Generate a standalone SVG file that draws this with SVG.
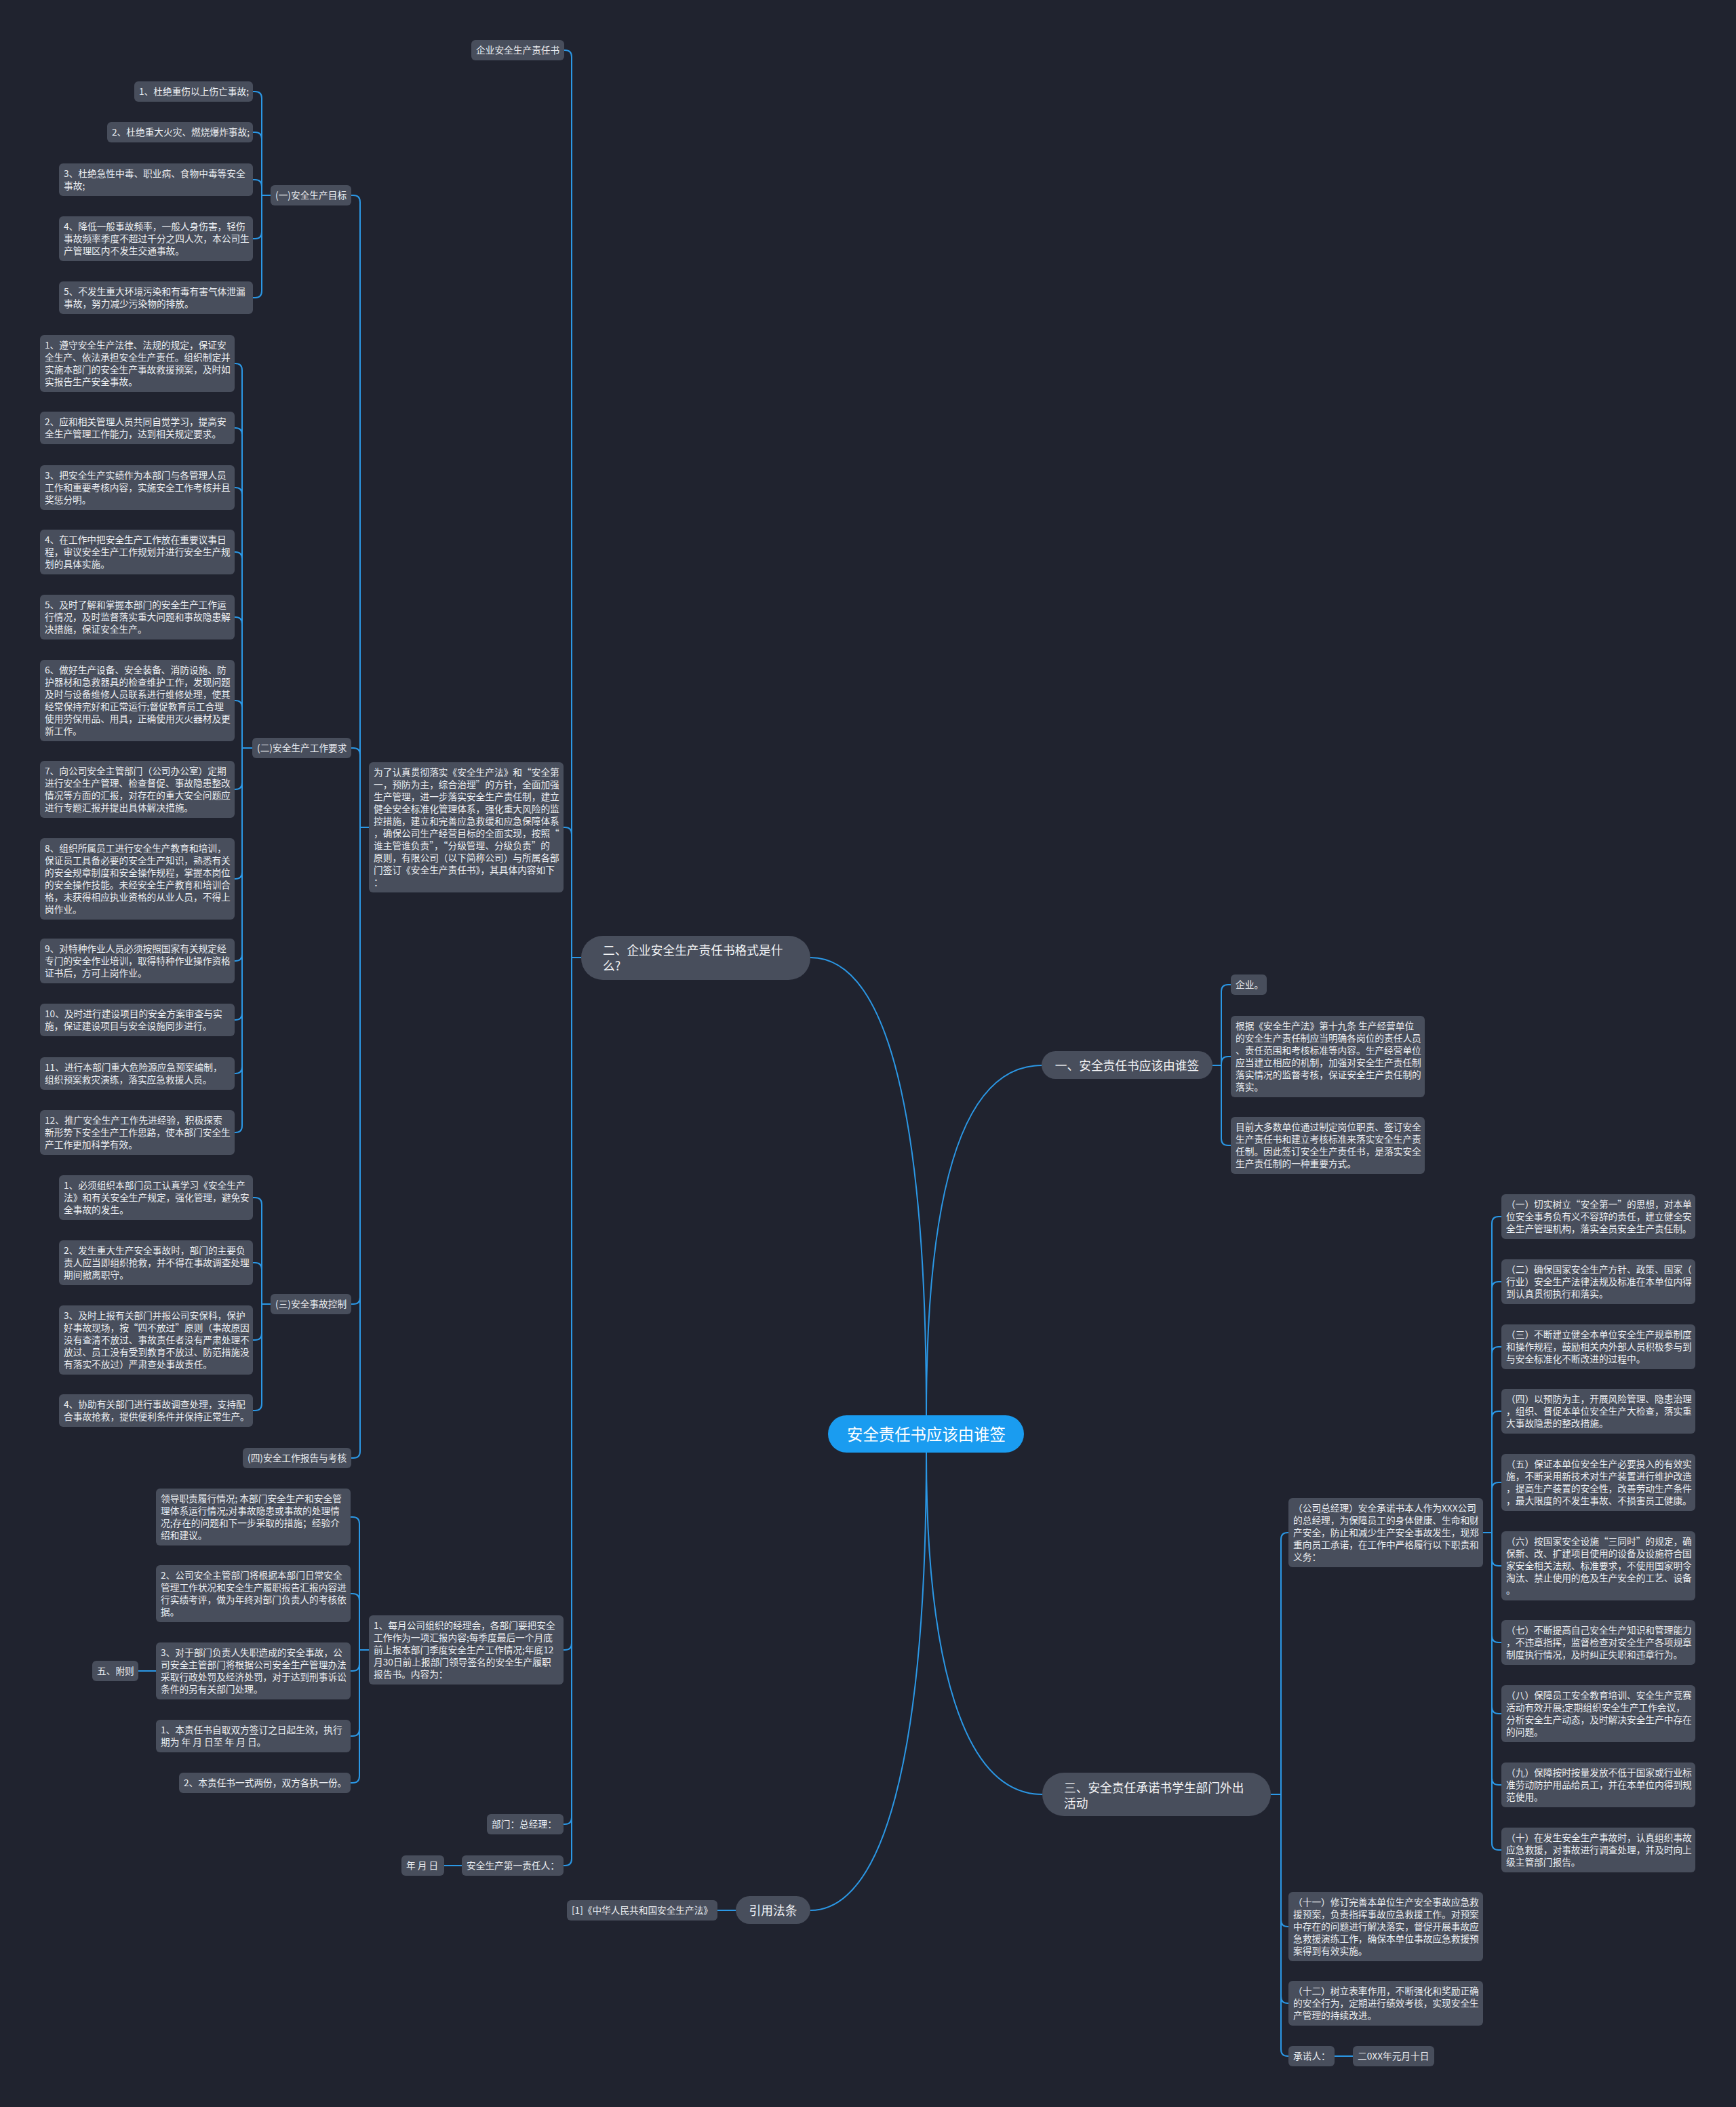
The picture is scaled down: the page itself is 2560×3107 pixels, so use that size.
<svg xmlns="http://www.w3.org/2000/svg" width="2560" height="3107" viewBox="0 0 2560 3107">
<style>
.nd{fill:#484e5c}
.tx{font-family:'Noto Sans CJK SC','Noto Sans',sans-serif;font-size:13.7px;fill:#eceef2}
.t1{font-family:'Noto Sans CJK SC','Noto Sans',sans-serif;font-size:17.7px;fill:#f4f5f7}
.lk{fill:none;stroke:#2b98e6;stroke-width:2}
</style>
<rect width="2560" height="3107" fill="#20232f"/>
<g id="connectors" class="lk">
<path d="M1195,1412C1310,1412 1366,1650 1366,2087"/>
<path d="M1536,1571C1420,1571 1366,1750 1366,2087"/>
<path d="M1366,2142C1366,2450 1420,2646 1537,2646"/>
<path d="M1366,2142C1366,2600 1300,2817 1195,2817"/>
<path d="M857,1412H843V84Q843,74 833,74H832"/>
<path d="M857,1412H843V1230Q843,1220 833,1220H831"/>
<path d="M857,1412H843V2423Q843,2433 833,2433H831"/>
<path d="M857,1412H843V2680Q843,2690 833,2690H831"/>
<path d="M857,1412H843V2741Q843,2751 833,2751H831"/>
<path d="M544,1220H531V298Q531,288 521,288H518"/>
<path d="M544,1220H531V1113Q531,1103 521,1103H518"/>
<path d="M544,1220H531V1913Q531,1923 521,1923H518"/>
<path d="M544,1220H531V2140Q531,2150 521,2150H518"/>
<path d="M399,288H386V145Q386,135 376,135H373"/>
<path d="M399,288H386V205Q386,195 376,195H373"/>
<path d="M399,288H386V275Q386,265 376,265H373"/>
<path d="M399,288H386V342Q386,352 376,352H373"/>
<path d="M399,288H386V429Q386,439 376,439H373"/>
<path d="M372,1103H357V546Q357,536 347,536H346"/>
<path d="M372,1103H357V641Q357,631 347,631H346"/>
<path d="M372,1103H357V729Q357,719 347,719H346"/>
<path d="M372,1103H357V824Q357,814 347,814H346"/>
<path d="M372,1103H357V920Q357,910 347,910H346"/>
<path d="M372,1103H357V1043Q357,1033 347,1033H346"/>
<path d="M372,1103H357V1154Q357,1164 347,1164H346"/>
<path d="M372,1103H357V1286Q357,1296 347,1296H346"/>
<path d="M372,1103H357V1407Q357,1417 347,1417H346"/>
<path d="M372,1103H357V1494Q357,1504 347,1504H346"/>
<path d="M372,1103H357V1573Q357,1583 347,1583H346"/>
<path d="M372,1103H357V1660Q357,1670 347,1670H346"/>
<path d="M399,1923H386V1776Q386,1766 376,1766H373"/>
<path d="M399,1923H386V1872Q386,1862 376,1862H373"/>
<path d="M399,1923H386V1966Q386,1976 376,1976H373"/>
<path d="M399,1923H386V2070Q386,2080 376,2080H373"/>
<path d="M544,2433H530V2247Q530,2237 520,2237H517"/>
<path d="M544,2433H530V2360Q530,2350 520,2350H517"/>
<path d="M544,2433H530V2454Q530,2464 520,2464H517"/>
<path d="M544,2433H530V2550Q530,2560 520,2560H517"/>
<path d="M544,2433H530V2619Q530,2629 520,2629H517"/>
<path d="M230,2464H204"/>
<path d="M681,2751H655"/>
<path d="M1085,2817H1058"/>
<path d="M1788,1571H1801V1462Q1801,1452 1811,1452H1815"/>
<path d="M1788,1571H1801V1568Q1801,1558 1811,1558H1815"/>
<path d="M1788,1571H1801V1679Q1801,1689 1811,1689H1815"/>
<path d="M1874,2646H1889V2270Q1889,2260 1899,2260H1900"/>
<path d="M1874,2646H1889V2831Q1889,2841 1899,2841H1900"/>
<path d="M1874,2646H1889V2944Q1889,2954 1899,2954H1900"/>
<path d="M1874,2646H1889V3022Q1889,3032 1899,3032H1900"/>
<path d="M1968,3032H1995"/>
<path d="M2187,2260H2200V1804Q2200,1794 2210,1794H2214"/>
<path d="M2187,2260H2200V1900Q2200,1890 2210,1890H2214"/>
<path d="M2187,2260H2200V1996Q2200,1986 2210,1986H2214"/>
<path d="M2187,2260H2200V2091Q2200,2081 2210,2081H2214"/>
<path d="M2187,2260H2200V2196Q2200,2186 2210,2186H2214"/>
<path d="M2187,2260H2200V2299Q2200,2309 2210,2309H2214"/>
<path d="M2187,2260H2200V2412Q2200,2422 2210,2422H2214"/>
<path d="M2187,2260H2200V2517Q2200,2527 2210,2527H2214"/>
<path d="M2187,2260H2200V2622Q2200,2632 2210,2632H2214"/>
<path d="M2187,2260H2200V2718Q2200,2728 2210,2728H2214"/>
</g>

<g id="center"><rect x="1221" y="2087" width="289" height="55" rx="27.5" fill="#1a9cf0"/><text x="1366" y="2123.5" text-anchor="middle" font-family="'Noto Sans CJK SC',sans-serif" font-size="23.4" fill="#ffffff">安全责任书应该由谁签</text></g>

<g id="n-er"><rect class="nd" x="857" y="1380" width="338" height="65" rx="32"/><text class="t1"><tspan x="889" y="1407.5">二、企业安全生产责任书格式是什</tspan><tspan x="889" y="1430.5">么?</tspan></text></g>
<g id="n-yi"><rect class="nd" x="1536" y="1550" width="252" height="41" rx="20.5"/><text class="t1" x="1662" y="1577.5" text-anchor="middle">一、安全责任书应该由谁签</text></g>
<g id="n-san"><rect class="nd" x="1537" y="2614" width="337" height="64" rx="32"/><text class="t1"><tspan x="1569" y="2642.5">三、安全责任承诺书学生部门外出</tspan><tspan x="1569" y="2665.5">活动</tspan></text></g>
<g id="n-yy"><rect class="nd" x="1085" y="2796" width="110" height="41" rx="20.5"/><text class="t1" x="1140" y="2823.5" text-anchor="middle">引用法条</text></g>

<g id="n-law"><rect class="nd" x="836" y="2802" width="222" height="30" rx="6"/><text class="tx" x="843" y="2822" textLength="208" lengthAdjust="spacingAndGlyphs">[1]《中华人民共和国安全生产法》</text></g>

<g id="n-zrs"><rect class="nd" x="695" y="59" width="137" height="30" rx="6"/><text class="tx" x="702" y="79">企业安全生产责任书</text></g>

<g id="n-par"><rect class="nd" x="544" y="1124" width="287" height="192" rx="6"/><text class="tx"><tspan x="551" y="1144">为了认真贯彻落实《安全生产法》和“安全第</tspan><tspan x="551" y="1162">一，预防为主，综合治理”的方针，全面加强</tspan><tspan x="551" y="1180">生产管理，进一步落实安全生产责任制，建立</tspan><tspan x="551" y="1198">健全安全标准化管理体系，强化重大风险的监</tspan><tspan x="551" y="1216">控措施，建立和完善应急救缓和应急保障体系</tspan><tspan x="551" y="1234">，确保公司生产经营目标的全面实现，按照“</tspan><tspan x="551" y="1252">谁主管谁负责”，“分级管理、分级负责”的</tspan><tspan x="551" y="1270">原则，有限公司（以下简称公司）与所属各部</tspan><tspan x="551" y="1288">门签订《安全生产责任书》，其具体内容如下</tspan><tspan x="551" y="1306">：</tspan></text></g>

<g id="n-g1"><rect class="nd" x="399" y="273" width="119" height="30" rx="6"/><text class="tx" x="406" y="293">(一)安全生产目标</text></g>
<g id="n-g1-1"><rect class="nd" x="198" y="120" width="175" height="30" rx="6"/><text class="tx" x="205" y="140">1、杜绝重伤以上伤亡事故;</text></g>
<g id="n-g1-2"><rect class="nd" x="158" y="180" width="215" height="30" rx="6"/><text class="tx" x="165" y="200">2、杜绝重大火灾、燃烧爆炸事故;</text></g>
<g id="n-g1-3"><rect class="nd" x="87" y="241" width="286" height="48" rx="6"/><text class="tx"><tspan x="94" y="261">3、杜绝急性中毒、职业病、食物中毒等安全</tspan><tspan x="94" y="279">事故;</tspan></text></g>
<g id="n-g1-4"><rect class="nd" x="87" y="319" width="286" height="66" rx="6"/><text class="tx"><tspan x="94" y="339">4、降低一般事故频率，一般人身伤害，轻伤</tspan><tspan x="94" y="357">事故频率季度不超过千分之四人次，本公司生</tspan><tspan x="94" y="375">产管理区内不发生交通事故。</tspan></text></g>
<g id="n-g1-5"><rect class="nd" x="87" y="415" width="286" height="48" rx="6"/><text class="tx"><tspan x="94" y="435">5、不发生重大环境污染和有毒有害气体泄漏</tspan><tspan x="94" y="453">事故，努力减少污染物的排放。</tspan></text></g>

<g id="n-g2"><rect class="nd" x="372" y="1088" width="146" height="30" rx="6"/><text class="tx" x="379" y="1108">(二)安全生产工作要求</text></g>
<g id="n-g2-1"><rect class="nd" x="59" y="494" width="287" height="84" rx="6"/><text class="tx"><tspan x="66" y="514">1、遵守安全生产法律、法规的规定，保证安</tspan><tspan x="66" y="532">全生产、依法承担安全生产责任。组织制定并</tspan><tspan x="66" y="550">实施本部门的安全生产事故救援预案，及时如</tspan><tspan x="66" y="568">实报告生产安全事故。</tspan></text></g>
<g id="n-g2-2"><rect class="nd" x="59" y="607" width="287" height="48" rx="6"/><text class="tx"><tspan x="66" y="627">2、应和相关管理人员共同自觉学习，提高安</tspan><tspan x="66" y="645">全生产管理工作能力，达到相关规定要求。</tspan></text></g>
<g id="n-g2-3"><rect class="nd" x="59" y="686" width="287" height="66" rx="6"/><text class="tx"><tspan x="66" y="706">3、把安全生产实绩作为本部门与各管理人员</tspan><tspan x="66" y="724">工作和重要考核内容，实施安全工作考核并且</tspan><tspan x="66" y="742">奖惩分明。</tspan></text></g>
<g id="n-g2-4"><rect class="nd" x="59" y="781" width="287" height="66" rx="6"/><text class="tx"><tspan x="66" y="801">4、在工作中把安全生产工作放在重要议事日</tspan><tspan x="66" y="819">程，审议安全生产工作规划并进行安全生产规</tspan><tspan x="66" y="837">划的具体实施。</tspan></text></g>
<g id="n-g2-5"><rect class="nd" x="59" y="877" width="287" height="66" rx="6"/><text class="tx"><tspan x="66" y="897">5、及时了解和掌握本部门的安全生产工作运</tspan><tspan x="66" y="915">行情况，及时监督落实重大问题和事故隐患解</tspan><tspan x="66" y="933">决措施，保证安全生产。</tspan></text></g>
<g id="n-g2-6"><rect class="nd" x="59" y="973" width="287" height="120" rx="6"/><text class="tx"><tspan x="66" y="993">6、做好生产设备、安全装备、消防设施、防</tspan><tspan x="66" y="1011">护器材和急救器具的检查维护工作，发现问题</tspan><tspan x="66" y="1029">及时与设备维修人员联系进行维修处理，使其</tspan><tspan x="66" y="1047">经常保持完好和正常运行;督促教育员工合理</tspan><tspan x="66" y="1065">使用劳保用品、用具，正确使用灭火器材及更</tspan><tspan x="66" y="1083">新工作。</tspan></text></g>
<g id="n-g2-7"><rect class="nd" x="59" y="1122" width="287" height="84" rx="6"/><text class="tx"><tspan x="66" y="1142">7、向公司安全主管部门（公司办公室）定期</tspan><tspan x="66" y="1160">进行安全生产管理、检查督促、事故隐患整改</tspan><tspan x="66" y="1178">情况等方面的汇报，对存在的重大安全问题应</tspan><tspan x="66" y="1196">进行专题汇报并提出具体解决措施。</tspan></text></g>
<g id="n-g2-8"><rect class="nd" x="59" y="1236" width="287" height="120" rx="6"/><text class="tx"><tspan x="66" y="1256">8、组织所属员工进行安全生产教育和培训，</tspan><tspan x="66" y="1274">保证员工具备必要的安全生产知识，熟悉有关</tspan><tspan x="66" y="1292">的安全规章制度和安全操作规程，掌握本岗位</tspan><tspan x="66" y="1310">的安全操作技能。未经安全生产教育和培训合</tspan><tspan x="66" y="1328">格，未获得相应执业资格的从业人员，不得上</tspan><tspan x="66" y="1346">岗作业。</tspan></text></g>
<g id="n-g2-9"><rect class="nd" x="59" y="1384" width="287" height="66" rx="6"/><text class="tx"><tspan x="66" y="1404">9、对特种作业人员必须按照国家有关规定经</tspan><tspan x="66" y="1422">专门的安全作业培训，取得特种作业操作资格</tspan><tspan x="66" y="1440">证书后，方可上岗作业。</tspan></text></g>
<g id="n-g2-10"><rect class="nd" x="59" y="1480" width="287" height="48" rx="6"/><text class="tx"><tspan x="66" y="1500">10、及时进行建设项目的安全方案审查与实</tspan><tspan x="66" y="1518">施，保证建设项目与安全设施同步进行。</tspan></text></g>
<g id="n-g2-11"><rect class="nd" x="59" y="1559" width="287" height="48" rx="6"/><text class="tx"><tspan x="66" y="1579">11、进行本部门重大危险源应急预案编制，</tspan><tspan x="66" y="1597">组织预案救灾演练，落实应急救援人员。</tspan></text></g>
<g id="n-g2-12"><rect class="nd" x="59" y="1637" width="287" height="66" rx="6"/><text class="tx"><tspan x="66" y="1657">12、推广安全生产工作先进经验，积极探索</tspan><tspan x="66" y="1675">新形势下安全生产工作思路，使本部门安全生</tspan><tspan x="66" y="1693">产工作更加科学有效。</tspan></text></g>

<g id="n-g3"><rect class="nd" x="399" y="1908" width="119" height="30" rx="6"/><text class="tx" x="406" y="1928">(三)安全事故控制</text></g>
<g id="n-g3-1"><rect class="nd" x="87" y="1733" width="286" height="66" rx="6"/><text class="tx"><tspan x="94" y="1753">1、必须组织本部门员工认真学习《安全生产</tspan><tspan x="94" y="1771">法》和有关安全生产规定，强化管理，避免安</tspan><tspan x="94" y="1789">全事故的发生。</tspan></text></g>
<g id="n-g3-2"><rect class="nd" x="87" y="1829" width="286" height="66" rx="6"/><text class="tx"><tspan x="94" y="1849">2、发生重大生产安全事故时，部门的主要负</tspan><tspan x="94" y="1867">责人应当即组织抢救，并不得在事故调查处理</tspan><tspan x="94" y="1885">期间撤离职守。</tspan></text></g>
<g id="n-g3-3"><rect class="nd" x="87" y="1925" width="286" height="102" rx="6"/><text class="tx"><tspan x="94" y="1945">3、及时上报有关部门并报公司安保科，保护</tspan><tspan x="94" y="1963">好事故现场，按“四不放过”原则（事故原因</tspan><tspan x="94" y="1981">没有查清不放过、事故责任者没有严肃处理不</tspan><tspan x="94" y="1999">放过、员工没有受到教育不放过、防范措施没</tspan><tspan x="94" y="2017">有落实不放过）严肃查处事故责任。</tspan></text></g>
<g id="n-g3-4"><rect class="nd" x="87" y="2056" width="286" height="48" rx="6"/><text class="tx"><tspan x="94" y="2076">4、协助有关部门进行事故调查处理，支持配</tspan><tspan x="94" y="2094">合事故抢救，提供便利条件并保持正常生产。</tspan></text></g>

<g id="n-g4"><rect class="nd" x="358" y="2135" width="160" height="30" rx="6"/><text class="tx" x="365" y="2155">(四)安全工作报告与考核</text></g>

<g id="n-c"><rect class="nd" x="544" y="2382" width="287" height="102" rx="6"/><text class="tx"><tspan x="551" y="2402">1、每月公司组织的经理会，各部门要把安全</tspan><tspan x="551" y="2420">工作作为一项汇报内容;每季度最后一个月底</tspan><tspan x="551" y="2438">前上报本部门季度安全生产工作情况;年底12</tspan><tspan x="551" y="2456">月30日前上报部门领导签名的安全生产履职</tspan><tspan x="551" y="2474">报告书。内容为：</tspan></text></g>
<g id="n-c-1"><rect class="nd" x="230" y="2195" width="287" height="84" rx="6"/><text class="tx"><tspan x="237" y="2215">领导职责履行情况; 本部门安全生产和安全管</tspan><tspan x="237" y="2233">理体系运行情况;对事故隐患或事故的处理情</tspan><tspan x="237" y="2251">况;存在的问题和下一步采取的措施；经验介</tspan><tspan x="237" y="2269">绍和建议。</tspan></text></g>
<g id="n-c-2"><rect class="nd" x="230" y="2308" width="287" height="84" rx="6"/><text class="tx"><tspan x="237" y="2328">2、公司安全主管部门将根据本部门日常安全</tspan><tspan x="237" y="2346">管理工作状况和安全生产履职报告汇报内容进</tspan><tspan x="237" y="2364">行实绩考评，做为年终对部门负责人的考核依</tspan><tspan x="237" y="2382">据。</tspan></text></g>
<g id="n-c-3"><rect class="nd" x="230" y="2422" width="287" height="84" rx="6"/><text class="tx"><tspan x="237" y="2442">3、对于部门负责人失职造成的安全事故，公</tspan><tspan x="237" y="2460">司安全主管部门将根据公司安全生产管理办法</tspan><tspan x="237" y="2478">采取行政处罚及经济处罚，对于达到刑事诉讼</tspan><tspan x="237" y="2496">条件的另有关部门处理。</tspan></text></g>
<g id="n-c-4"><rect class="nd" x="230" y="2536" width="287" height="48" rx="6"/><text class="tx"><tspan x="237" y="2556">1、本责任书自取双方签订之日起生效，执行</tspan><tspan x="237" y="2574">期为 年 月 日至 年 月 日。</tspan></text></g>
<g id="n-c-5"><rect class="nd" x="264" y="2614" width="253" height="30" rx="6"/><text class="tx" x="271" y="2634">2、本责任书一式两份，双方各执一份。</text></g>
<g id="n-fz"><rect class="nd" x="136" y="2449" width="68" height="30" rx="6"/><text class="tx" x="143" y="2469">五、附则</text></g>

<g id="n-d"><rect class="nd" x="718" y="2675" width="113" height="30" rx="6"/><text class="tx" x="725" y="2695">部门：总经理：</text></g>
<g id="n-e"><rect class="nd" x="681" y="2736" width="150" height="30" rx="6"/><text class="tx" x="688" y="2756">安全生产第一责任人：</text></g>
<g id="n-ymd"><rect class="nd" x="592" y="2736" width="63" height="30" rx="6"/><text class="tx" x="599" y="2756">年 月 日</text></g>

<g id="n-r1-1"><rect class="nd" x="1815" y="1437" width="53" height="30" rx="6"/><text class="tx" x="1822" y="1457">企业。</text></g>
<g id="n-r1-2"><rect class="nd" x="1815" y="1498" width="286" height="120" rx="6"/><text class="tx"><tspan x="1822" y="1518">根据《安全生产法》第十九条 生产经营单位</tspan><tspan x="1822" y="1536">的安全生产责任制应当明确各岗位的责任人员</tspan><tspan x="1822" y="1554">、责任范围和考核标准等内容。生产经营单位</tspan><tspan x="1822" y="1572">应当建立相应的机制，加强对安全生产责任制</tspan><tspan x="1822" y="1590">落实情况的监督考核，保证安全生产责任制的</tspan><tspan x="1822" y="1608">落实。</tspan></text></g>
<g id="n-r1-3"><rect class="nd" x="1815" y="1647" width="286" height="84" rx="6"/><text class="tx"><tspan x="1822" y="1667">目前大多数单位通过制定岗位职责、签订安全</tspan><tspan x="1822" y="1685">生产责任书和建立考核标准来落实安全生产责</tspan><tspan x="1822" y="1703">任制。因此签订安全生产责任书，是落实安全</tspan><tspan x="1822" y="1721">生产责任制的一种重要方式。</tspan></text></g>

<g id="n-a"><rect class="nd" x="1900" y="2209" width="287" height="102" rx="6"/><text class="tx"><tspan x="1907" y="2229">（公司总经理）安全承诺书本人作为XXX公司</tspan><tspan x="1907" y="2247">的总经理，为保障员工的身体健康、生命和财</tspan><tspan x="1907" y="2265">产安全，防止和减少生产安全事故发生，现郑</tspan><tspan x="1907" y="2283">重向员工承诺，在工作中严格履行以下职责和</tspan><tspan x="1907" y="2301">义务：</tspan></text></g>
<g id="n-a-1"><rect class="nd" x="2214" y="1761" width="286" height="66" rx="6"/><text class="tx"><tspan x="2221" y="1781">（一）切实树立“安全第一”的思想，对本单</tspan><tspan x="2221" y="1799">位安全事务负有义不容辞的责任，建立健全安</tspan><tspan x="2221" y="1817">全生产管理机构，落实全员安全生产责任制。</tspan></text></g>
<g id="n-a-2"><rect class="nd" x="2214" y="1857" width="286" height="66" rx="6"/><text class="tx"><tspan x="2221" y="1877">（二）确保国家安全生产方针、政策、国家（</tspan><tspan x="2221" y="1895">行业）安全生产法律法规及标准在本单位内得</tspan><tspan x="2221" y="1913">到认真贯彻执行和落实。</tspan></text></g>
<g id="n-a-3"><rect class="nd" x="2214" y="1953" width="286" height="66" rx="6"/><text class="tx"><tspan x="2221" y="1973">（三）不断建立健全本单位安全生产规章制度</tspan><tspan x="2221" y="1991">和操作规程，鼓励相关内外部人员积极参与到</tspan><tspan x="2221" y="2009">与安全标准化不断改进的过程中。</tspan></text></g>
<g id="n-a-4"><rect class="nd" x="2214" y="2048" width="286" height="66" rx="6"/><text class="tx"><tspan x="2221" y="2068">（四）以预防为主，开展风险管理、隐患治理</tspan><tspan x="2221" y="2086">，组织、督促本单位安全生产大检查，落实重</tspan><tspan x="2221" y="2104">大事故隐患的整改措施。</tspan></text></g>
<g id="n-a-5"><rect class="nd" x="2214" y="2144" width="286" height="84" rx="6"/><text class="tx"><tspan x="2221" y="2164">（五）保证本单位安全生产必要投入的有效实</tspan><tspan x="2221" y="2182">施，不断采用新技术对生产装置进行维护改造</tspan><tspan x="2221" y="2200">，提高生产装置的安全性，改善劳动生产条件</tspan><tspan x="2221" y="2218">，最大限度的不发生事故、不损害员工健康。</tspan></text></g>
<g id="n-a-6"><rect class="nd" x="2214" y="2258" width="286" height="102" rx="6"/><text class="tx"><tspan x="2221" y="2278">（六）按国家安全设施“三同时”的规定，确</tspan><tspan x="2221" y="2296">保新、改、扩建项目使用的设备及设施符合国</tspan><tspan x="2221" y="2314">家安全相关法规、标准要求，不使用国家明令</tspan><tspan x="2221" y="2332">淘汰、禁止使用的危及生产安全的工艺、设备</tspan><tspan x="2221" y="2350">。</tspan></text></g>
<g id="n-a-7"><rect class="nd" x="2214" y="2389" width="286" height="66" rx="6"/><text class="tx"><tspan x="2221" y="2409">（七）不断提高自己安全生产知识和管理能力</tspan><tspan x="2221" y="2427">，不违章指挥，监督检查对安全生产各项规章</tspan><tspan x="2221" y="2445">制度执行情况，及时纠正失职和违章行为。</tspan></text></g>
<g id="n-a-8"><rect class="nd" x="2214" y="2485" width="286" height="84" rx="6"/><text class="tx"><tspan x="2221" y="2505">（八）保障员工安全教育培训、安全生产竞赛</tspan><tspan x="2221" y="2523">活动有效开展;定期组织安全生产工作会议，</tspan><tspan x="2221" y="2541">分析安全生产动态，及时解决安全生产中存在</tspan><tspan x="2221" y="2559">的问题。</tspan></text></g>
<g id="n-a-9"><rect class="nd" x="2214" y="2599" width="286" height="66" rx="6"/><text class="tx"><tspan x="2221" y="2619">（九）保障按时按量发放不低于国家或行业标</tspan><tspan x="2221" y="2637">准劳动防护用品给员工，并在本单位内得到规</tspan><tspan x="2221" y="2655">范使用。</tspan></text></g>
<g id="n-a-10"><rect class="nd" x="2214" y="2695" width="286" height="66" rx="6"/><text class="tx"><tspan x="2221" y="2715">（十）在发生安全生产事故时，认真组织事故</tspan><tspan x="2221" y="2733">应急救援，对事故进行调查处理，并及时向上</tspan><tspan x="2221" y="2751">级主管部门报告。</tspan></text></g>

<g id="n-b"><rect class="nd" x="1900" y="2790" width="287" height="102" rx="6"/><text class="tx"><tspan x="1907" y="2810">（十一）修订完善本单位生产安全事故应急救</tspan><tspan x="1907" y="2828">援预案，负责指挥事故应急救援工作。对预案</tspan><tspan x="1907" y="2846">中存在的问题进行解决落实，督促开展事故应</tspan><tspan x="1907" y="2864">急救援演练工作，确保本单位事故应急救援预</tspan><tspan x="1907" y="2882">案得到有效实施。</tspan></text></g>
<g id="n-bc"><rect class="nd" x="1900" y="2921" width="287" height="66" rx="6"/><text class="tx"><tspan x="1907" y="2941">（十二）树立表率作用，不断强化和奖励正确</tspan><tspan x="1907" y="2959">的安全行为，定期进行绩效考核，实现安全生</tspan><tspan x="1907" y="2977">产管理的持续改进。</tspan></text></g>
<g id="n-cnr"><rect class="nd" x="1900" y="3017" width="68" height="30" rx="6"/><text class="tx" x="1907" y="3037">承诺人：</text></g>
<g id="n-date"><rect class="nd" x="1995" y="3017" width="120" height="30" rx="6"/><text class="tx" x="2002" y="3037">二0XX年元月十日</text></g>
</svg>
